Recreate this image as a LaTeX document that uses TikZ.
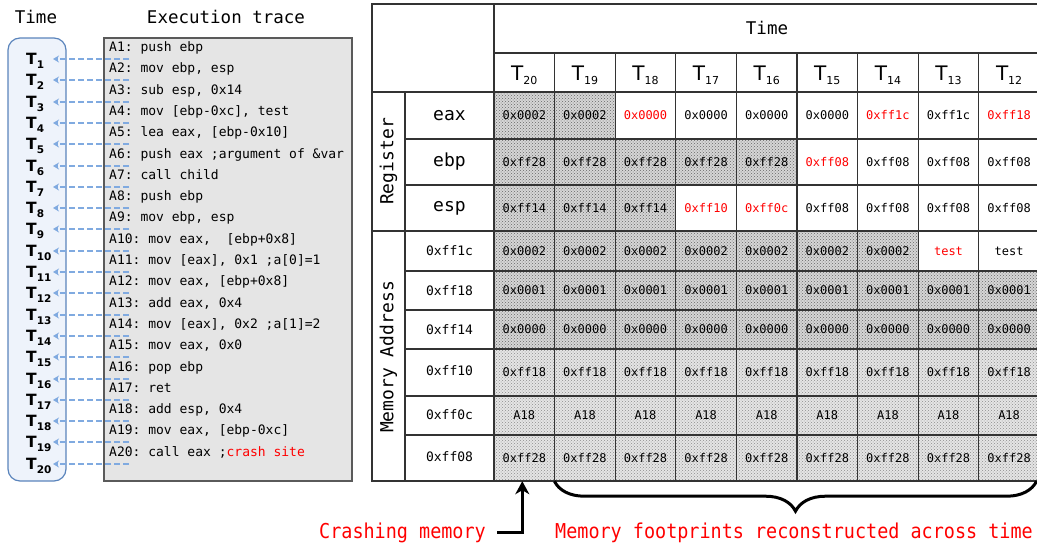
\documentclass[tikz,border=0pt]{standalone}
\usepackage{fontspec}
\setmainfont{DejaVu Sans}
\setmonofont{DejaVu Sans Mono}
\newfontfamily\notefont[FakeStretch=0.9]{DejaVu Sans Mono}
\usepackage{tikz}
\usetikzlibrary{arrows.meta,calc,positioning,patterns,decorations.pathreplacing}
\usepackage{xcolor}

\definecolor{timefill}{RGB}{238,243,251}
\definecolor{timeedge}{RGB}{90,132,188}
\definecolor{tracefill}{RGB}{229,229,229}
\definecolor{traceedge}{RGB}{90,90,90}
\definecolor{linkblue}{RGB}{128,170,224}

\newcommand{\fsz}[1]{\fontsize{#1}{#1}\selectfont}
\newcommand{\stepsub}[1]{T\raisebox{-4pt}{\fsz{10.5}#1}}
\newcommand{\colsub}[1]{T\raisebox{-4pt}{\fsz{11}#1}}

\tikzset{
  headtext/.style={font=\ttfamily\fsz{17.5}},
  timebox/.style={draw=timeedge, fill=timefill, line width=1.2pt, rounded corners=12pt},
  tracebox/.style={draw=traceedge, fill=tracefill, line width=1.2pt},
  traceline/.style={font=\ttfamily\fsz{13}},
  steplabel/.style={font=\bfseries\fsz{15.5}},
  tracelink/.style={draw=linkblue, line width=2pt, dash pattern=on 6pt off 3pt,
    -{Stealth[length=6pt,width=7pt]}},
  gridline/.style={draw=black!80, line width=1.2pt},
  cell/.style={minimum width=60.6pt, font=\ttfamily\fsz{12}},
  shadedark/.style={preaction={fill=black!16}, pattern=crosshatch dots, pattern color=black!60},
  shadelight/.style={preaction={fill=black!10}, pattern=crosshatch dots, pattern color=black!45},
  plaincell/.style={fill=white},
  redcell/.style={fill=white, text=red},
  colhead/.style={font=\fsz{20}},
  rowname/.style={font=\ttfamily\fsz{18}},
  addrname/.style={font=\ttfamily\fsz{13}},
  sidelabel/.style={font=\ttfamily\fsz{18}, rotate=90},
  note/.style={font=\notefont\fsz{20.5}, text=red},
  crasharrow/.style={line width=3pt, -{Stealth[length=13pt,width=14pt,inset=4pt]}},
  footbrace/.style={line width=3pt, decorate, decoration={brace, mirror, amplitude=30pt}}
}

% one row of the table: name, top, bottom, list of kind/value
\newcommand{\memrow}[4]{%
  \foreach \k/\v [count=\c] in {#4}
    \node[cell, \k, minimum height={(#3-#2)*1pt}] (#1-\c) at ({494+60.6*(\c-0.5)},{(#2+#3)/2}) {\v};}

\begin{document}
\begin{tikzpicture}[x=1pt, y=-1pt, every node/.style={inner sep=0pt}]
  \useasboundingbox (0,0) rectangle (1037,544);

  % left: time steps and execution trace
  \node[headtext] (timehead) at (36,17) {Time};
  \node[headtext] (tracehead) at (226,17) {Execution trace};
  \node[timebox, minimum width=58pt, minimum height=443pt] (timecol) at (37,259.5) {};
  \node[tracebox, minimum width=248pt, minimum height=443pt] (tracecol) at (228,259.5) {};
  \foreach \ins [count=\i] in {{A1: push ebp},{A2: mov ebp, esp},{A3: sub esp, 0x14},
      {A4: mov [ebp-0xc], test},{A5: lea eax, [ebp-0x10]},{A6: push eax ;argument of \&var},
      {A7: call child},{A8: push ebp},{A9: mov ebp, esp},{A10: mov eax,~ [ebp+0x8]},
      {A11: mov [eax], 0x1 ;a[0]=1},{A12: mov eax, [ebp+0x8]},{A13: add eax, 0x4},
      {A14: mov [eax], 0x2 ;a[1]=2},{A15: mov eax, 0x0},{A16: pop ebp},{A17: ret},
      {A18: add esp, 0x4},{A19: mov eax, [ebp-0xc]},{A20: call eax ;\textcolor{red}{crash site}}}
    \node[traceline, anchor=base west] (a\i) at (109,{51.5+21.3*(\i-1)}) {\ins};
  \foreach \i in {1,...,20}{
    \pgfmathsetmacro\yy{round(59+21.3*(\i-1))}
    \node[steplabel, anchor=base west] (t\i) at (26,{\yy+5.5}) {\stepsub{\i}};
    \coordinate (src\i) at (129,\yy);
    \coordinate (tip\i) at (53,\yy);
    \draw[tracelink] (src\i) -- (tip\i);
  }

  % right: registers and memory across time
  \memrow{r1}{92}{139}{shadedark/0x0002,shadedark/0x0002,redcell/0x0000,plaincell/0x0000,plaincell/0x0000,plaincell/0x0000,redcell/0xff1c,plaincell/0xff1c,redcell/0xff18}
  \memrow{r2}{139}{185}{shadedark/0xff28,shadedark/0xff28,shadedark/0xff28,shadedark/0xff28,shadedark/0xff28,redcell/0xff08,plaincell/0xff08,plaincell/0xff08,plaincell/0xff08}
  \memrow{r3}{185}{231}{shadedark/0xff14,shadedark/0xff14,shadedark/0xff14,redcell/0xff10,redcell/0xff0c,plaincell/0xff08,plaincell/0xff08,plaincell/0xff08,plaincell/0xff08}
  \memrow{m1}{231}{271}{shadedark/0x0002,shadedark/0x0002,shadedark/0x0002,shadedark/0x0002,shadedark/0x0002,shadedark/0x0002,shadedark/0x0002,redcell/test,plaincell/test}
  \memrow{m2}{271}{310}{shadedark/0x0001,shadedark/0x0001,shadedark/0x0001,shadedark/0x0001,shadedark/0x0001,shadedark/0x0001,shadedark/0x0001,shadedark/0x0001,shadedark/0x0001}
  \memrow{m3}{310}{349}{shadedark/0x0000,shadedark/0x0000,shadedark/0x0000,shadedark/0x0000,shadedark/0x0000,shadedark/0x0000,shadedark/0x0000,shadedark/0x0000,shadedark/0x0000}
  \memrow{m4}{349}{396}{shadelight/0xff18,shadelight/0xff18,shadelight/0xff18,shadelight/0xff18,shadelight/0xff18,shadelight/0xff18,shadelight/0xff18,shadelight/0xff18,shadelight/0xff18}
  \memrow{m5}{396}{435}{shadelight/A18,shadelight/A18,shadelight/A18,shadelight/A18,shadelight/A18,shadelight/A18,shadelight/A18,shadelight/A18,shadelight/A18}
  \memrow{m6}{435}{481}{shadelight/0xff28,shadelight/0xff28,shadelight/0xff28,shadelight/0xff28,shadelight/0xff28,shadelight/0xff28,shadelight/0xff28,shadelight/0xff28,shadelight/0xff28}

  % grid
  \draw[gridline] (372,4) rectangle (1040,481);
  \draw[gridline] (494,4) -- (494,481);
  \draw[gridline] (405,92) -- (405,481);
  \draw[gridline] (494,53) -- (1040,53);
  \draw[gridline] (372,92) -- (1040,92);
  \foreach \y in {139,185,271,310,349,396,435}
    \draw[gridline] (405,\y) -- (1040,\y);
  \draw[gridline, line width=1.6pt] (372,231) -- (1040,231);
  \foreach \c in {1,...,8}
    \draw[gridline] ({494+60.6*\c},53) -- ({494+60.6*\c},481);

  % headers
  \node[headtext] (tablehead) at (767,28) {Time};
  \foreach \t [count=\c] in {20,19,...,12}
    \node[colhead, anchor=base] (h\c) at ({494+60.6*(\c-0.5)},80) {\colsub{\t}};
  \node[sidelabel] (reglabel) at (388.5,161.5) {Register};
  \node[sidelabel] (memlabel) at (388.5,357) {Memory Address};
  \node[rowname] (n-eax) at (449.5,115.5) {eax};
  \node[rowname] (n-ebp) at (449.5,162) {ebp};
  \node[rowname] (n-esp) at (449.5,208) {esp};
  \node[addrname] (n-ff1c) at (449.5,251) {0xff1c};
  \node[addrname] (n-ff18) at (449.5,290.5) {0xff18};
  \node[addrname] (n-ff14) at (449.5,329.5) {0xff14};
  \node[addrname] (n-ff10) at (449.5,371) {0xff10};
  \node[addrname] (n-ff0c) at (449.5,414.5) {0xff0c};
  \node[addrname] (n-ff08) at (449.5,457) {0xff08};

  % bottom: notes
  \node[note, anchor=base east] (crash) at (486,538) {Crashing memory};
  \draw[crasharrow] ([xshift=11pt]crash.east) -| ([xshift=-2pt]m6-1.south);
  \draw[footbrace] (m6-2.south west) -- ([xshift=-3pt]m6-9.south east);
  \node[note, anchor=base] (recon) at (794,538) {Memory footprints reconstructed across time};
\end{tikzpicture}
\end{document}
